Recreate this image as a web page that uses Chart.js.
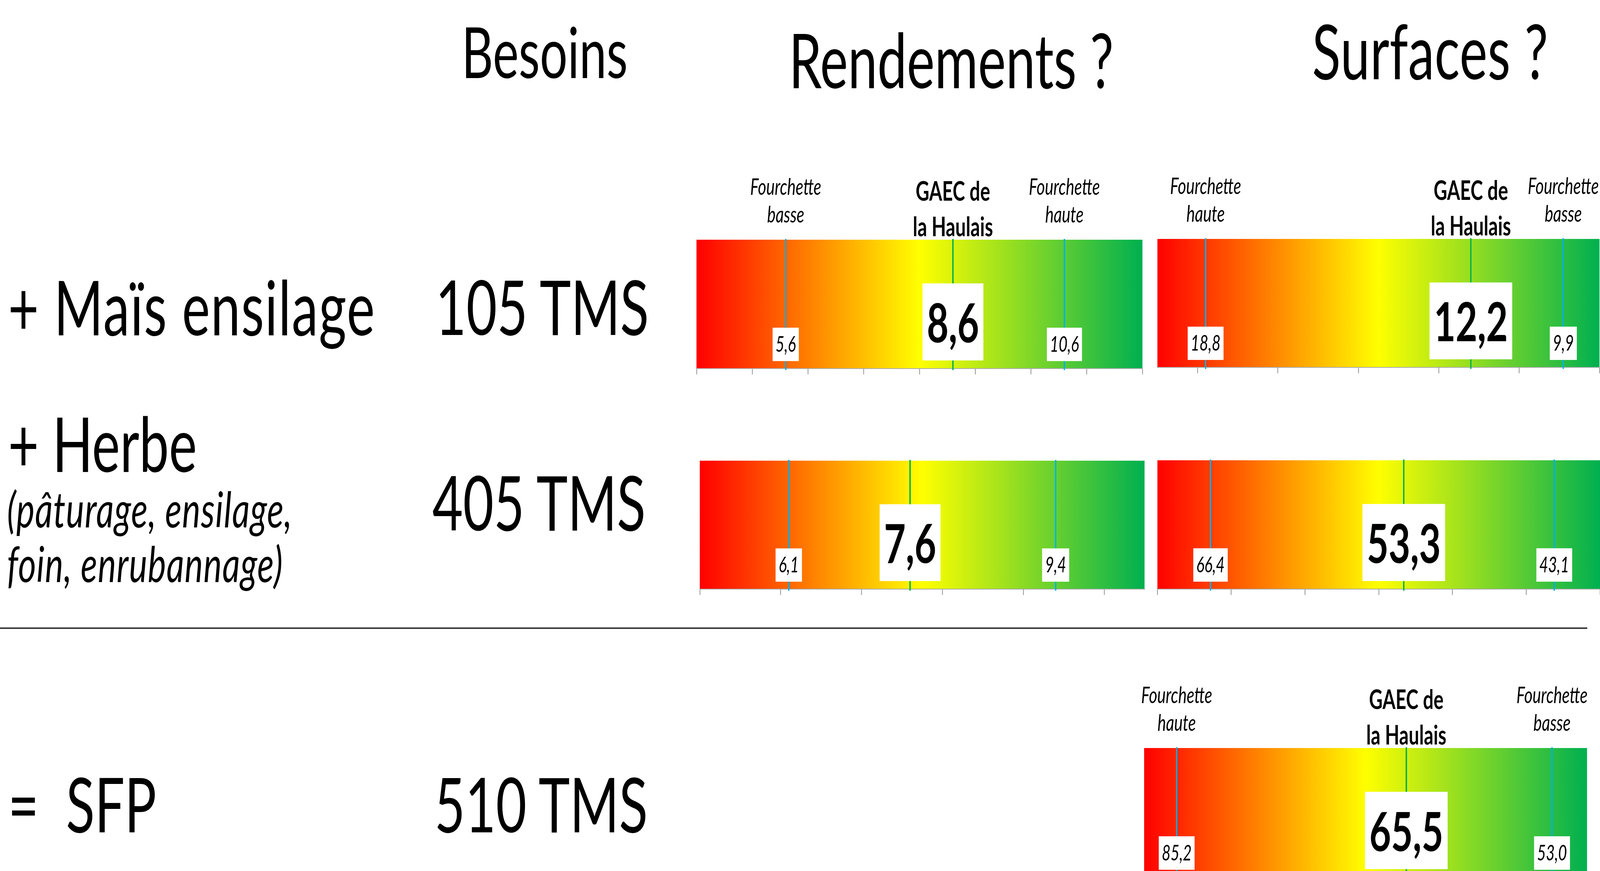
<!DOCTYPE html>
<html>
<head>
<meta charset="utf-8">
<script src="https://cdn.jsdelivr.net/npm/chart.js@4.4.1/dist/chart.umd.min.js"></script>
<style>
  html, body { margin: 0; padding: 0; background: #fff; overflow: hidden; }
  #page { position: absolute; left: 0; top: 0; width: 5892px; height: 2231px; transform-origin: 0 0; font-family: Lato, "Open Sans", sans-serif; color: #000; }
  .txt { position: absolute; white-space: pre; line-height: 1; }
  canvas { position: absolute; }
  #rule { position: absolute; left: 0; top: 1607px; width: 5845px; height: 4px; background: #3a3a3a; }
</style>
</head>
<body>
<div id="page"><div id="rule"></div></div>
<script>
// texts
const headers = ['Besoins', 'Rendements ?', 'Surfaces ?'];
const rowLabels = ['+ Maïs ensilage', '+ Herbe', '=  SFP'];
const rowNote = ['(pâturage, ensilage,', 'foin, enrubannage)'];
const besoins = ['105 TMS', '405 TMS', '510 TMS'];
const headBasse = ['Fourchette', 'basse'];
const headHaute = ['Fourchette', 'haute'];
const headGaec = ['GAEC de', 'la Haulais'];

// Rendements (maïs, herbe)
const rendBasse = [5.6, 6.1];
const rendGaec = [8.6, 7.6];
const rendHaute = [10.6, 9.4];
const rendMin = [4, 5];
const rendMax = [12, 10.5];
const rendTicks = [[4, 5, 6, 7, 8, 9, 10, 11, 12], [5, 6, 7, 8, 9, 10]];

// Surfaces (maïs, herbe, SFP) - axe inversé
const surfHaute = [18.8, 66.4, 85.2];
const surfGaec = [12.2, 53.3, 65.5];
const surfBasse = [9.9, 43.1, 53.0];
const surfMin = [9, 40, 50];
const surfMax = [20, 70, 88];
const surfTicks = [[9, 11, 13, 15, 17, 19], [40, 45, 50, 55, 60, 65, 70], [50, 55, 60, 65, 70, 75, 80, 85]];

const page = document.getElementById('page');
function fitPage() {
  const sx = window.innerWidth / 5892, sy = window.innerHeight / 2231;
  page.style.transform = 'scale(' + sx + ',' + sy + ')';
}
fitPage();

function addText(str, left, top, size, style) {
  const d = document.createElement('div');
  d.className = 'txt';
  d.textContent = str;
  d.style.left = left + 'px';
  d.style.top = top + 'px';
  d.style.fontSize = size + 'px';
  if (style) Object.assign(d.style, style);
  page.appendChild(d);
}

addText(headers[0], 1700, 40, 180);
addText(headers[1], 2905, 54, 194);
addText(headers[2], 4832, 31, 194, { letterSpacing: '1px' });
addText(rowLabels[0], 30, 687, 195, { letterSpacing: '3px' });
addText(rowLabels[1], 30, 1037, 195);
addText(rowNote.join('\n'), 26, 1232, 127, { fontStyle: 'italic', lineHeight: '140px', letterSpacing: '2px' });
addText(rowLabels[2], 30, 1960, 195);
addText(besoins[0], 1604, 686, 195);
addText(besoins[1], 1592, 1187, 195);
addText(besoins[2], 1600, 1960, 195);

const fmt = v => v.toFixed(1).replace('.', ',');

const gaugePlugin = {
  id: 'gaugeMarks',
  afterDatasetsDraw(chart, args, opts) {
    const { ctx, chartArea: a } = chart;
    const x = chart.scales.x;
    const h = a.bottom - a.top;
    ctx.save();
    opts.marks.forEach(m => {
      const px = x.getPixelForValue(m.value);
      ctx.strokeStyle = m.gaec ? '#00B050' : '#00B0F0';
      ctx.lineWidth = 5;
      ctx.beginPath();
      ctx.moveTo(px, a.top - 2);
      ctx.lineTo(px, a.bottom + 5);
      ctx.stroke();
    });
    ctx.textAlign = 'center';
    ctx.textBaseline = 'alphabetic';
    opts.marks.forEach(m => {
      const px = x.getPixelForValue(m.value);
      const txt = fmt(m.value);
      let top, bh, base, w;
      if (m.gaec) {
        ctx.font = 'bold 138px Lato';
        w = ctx.measureText(txt).width + 32;
        top = a.top + h * 0.34; bh = h * 0.60; base = a.top + h * 0.80;
      } else {
        ctx.font = 'italic 56px Lato';
        w = ctx.measureText(txt).width + 22;
        top = a.top + h * 0.685; bh = h * 0.26; base = a.top + h * 0.873;
      }
      ctx.fillStyle = '#fff';
      ctx.fillRect(px - w / 2, top, w, bh);
      ctx.fillStyle = '#000';
      ctx.fillText(txt, px, base);
      if (opts.heads && m.head) {
        if (m.gaec) {
          ctx.font = 'bold 69px Lato';
          ctx.fillText(m.head[0], px, a.top - 100);
          ctx.fillText(m.head[1], px, a.top - 9);
        } else {
          ctx.font = 'italic 59px Lato';
          ctx.fillText(m.head[0], px, a.top - 115);
          ctx.fillText(m.head[1], px, a.top - 44);
        }
      }
    });
    ctx.restore();
  }
};

function gradientFill(c) {
  const a = c.chart.chartArea;
  if (!a) return '#FFFF00';
  const g = c.chart.ctx.createLinearGradient(a.left, 0, a.right, 0);
  g.addColorStop(0, '#FF0000');
  g.addColorStop(0.5, '#FFFF00');
  g.addColorStop(1, '#00B050');
  return g;
}

const PAD_TOP = 170, PAD_SIDE = 10, TICK = 16;

function makeGauge(box, min, max, reverse, ticks, marks, heads) {
  const cv = document.createElement('canvas');
  const W = box.right - box.left + 2 * PAD_SIDE;
  const H = PAD_TOP + (box.bottom - box.top) + TICK + 4;
  cv.width = W; cv.height = H;
  cv.style.width = W + 'px'; cv.style.height = H + 'px';
  cv.style.left = (box.left - PAD_SIDE) + 'px';
  cv.style.top = (box.top - PAD_TOP) + 'px';
  page.appendChild(cv);
  new Chart(cv, {
    type: 'bar',
    data: {
      labels: [''],
      datasets: [{
        data: [[min, max]],
        backgroundColor: gradientFill,
        borderWidth: 0,
        barPercentage: 1,
        categoryPercentage: 1
      }]
    },
    options: {
      indexAxis: 'y',
      responsive: false,
      animation: false,
      devicePixelRatio: 1,
      layout: { padding: { top: PAD_TOP, left: PAD_SIDE, right: PAD_SIDE, bottom: 4 } },
      plugins: {
        legend: { display: false },
        tooltip: { enabled: false },
        gaugeMarks: { marks: marks, heads: heads }
      },
      scales: {
        x: {
          type: 'linear',
          min: min,
          max: max,
          reverse: reverse,
          afterBuildTicks: s => { s.ticks = ticks.map(v => ({ value: v })); },
          ticks: { display: false },
          grid: { drawOnChartArea: false, drawTicks: true, tickLength: TICK, tickWidth: 3, tickColor: '#9a9a9a' },
          border: { display: true, color: '#a8a8a8', width: 3 }
        },
        y: { display: false }
      }
    },
    plugins: [gaugePlugin]
  });
}

function marksFor(basse, gaec, haute) {
  return [
    { value: basse, head: headBasse },
    { value: haute, head: headHaute },
    { value: gaec, head: headGaec, gaec: true }
  ];
}

const boxes = {
  rend: [
    { left: 2565, right: 4207, top: 614, bottom: 943 },
    { left: 2577, right: 4215, top: 1180, bottom: 1508 }
  ],
  surf: [
    { left: 4262, right: 5890, top: 612, bottom: 940 },
    { left: 4262, right: 5892, top: 1179, bottom: 1508 },
    { left: 4213, right: 5844, top: 1916, bottom: 2246 }
  ]
};

Promise.all([
  document.fonts.load('bold 138px Lato'),
  document.fonts.load('italic 56px Lato'),
  document.fonts.load('180px Lato')
]).catch(() => {}).then(() => {
  for (let i = 0; i < 2; i++) {
    makeGauge(boxes.rend[i], rendMin[i], rendMax[i], false, rendTicks[i],
      marksFor(rendBasse[i], rendGaec[i], rendHaute[i]), i === 0);
  }
  for (let i = 0; i < 3; i++) {
    makeGauge(boxes.surf[i], surfMin[i], surfMax[i], true, surfTicks[i],
      marksFor(surfBasse[i], surfGaec[i], surfHaute[i]), i !== 1);
  }
});
</script>
</body>
</html>
